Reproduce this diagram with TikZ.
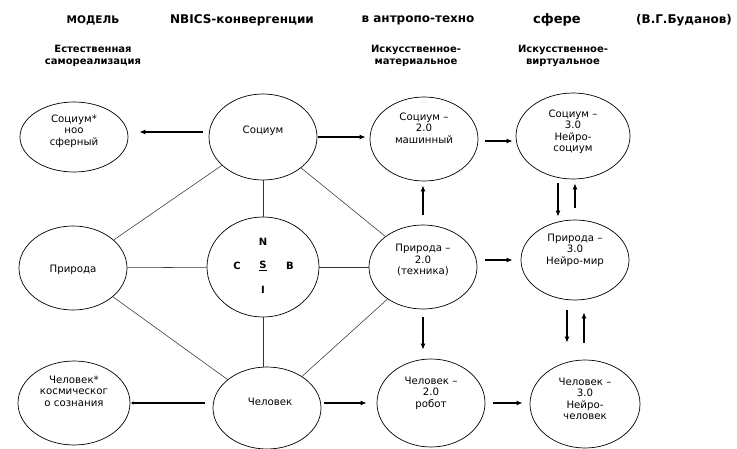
\documentclass[tikz,border=0pt]{standalone}
\usepackage{fontspec}
\setmainfont{DejaVu Sans}
\usetikzlibrary{shapes.geometric,arrows.meta,calc}
\tikzset{
  ell/.style={draw, ellipse, line width=0.7pt, inner sep=0pt},
  txt/.style={align=center, font=\fontsize{10.2}{11.5}\selectfont},
  hd/.style={align=center, font=\bfseries\fontsize{12}{14}\selectfont},
  hdd/.style={align=center, font=\bfseries\fontsize{10}{12}\selectfont},
  let/.style={font=\bfseries\fontsize{10}{12}\selectfont},
  con/.style={line width=0.55pt, draw=black!80},
  arr/.style={line width=1.3pt, -{Latex[length=6pt,width=5pt]}},
}
\begin{document}
\begin{tikzpicture}[x=1pt,y=-1pt]
\useasboundingbox (0,0) rectangle (737,449);
% headers
\node[hd, font=\bfseries\fontsize{10.5}{12}\selectfont] (h1) at (93,20) {МОДЕЛЬ};
\node[hd] (h2) at (242,20) {NBICS-конвергенции};
\node[hd] (h3) at (418,20) {в антропо-техно};
\node[hd, font=\bfseries\fontsize{13}{14}\selectfont] (h4) at (557,20) {сфере};
\node[hd] (h5) at (684,20) {(В.Г.Буданов)};
\node[hdd] (h6) at (93,56) {Естественная\\самореализация};
\node[hdd] (h7) at (416,56) {Искусственное-\\материальное};
\node[hdd] (h8) at (563,56) {Искусственное-\\виртуальное};
% ellipses
\node[ell, minimum width=108pt, minimum height=70pt] (sn) at (74,137) {};
\node[ell, minimum width=108pt, minimum height=86pt] (soc) at (263,137) {};
\node[ell, minimum width=108pt, minimum height=84pt] (s2) at (424,139) {};
\node[ell, minimum width=114pt, minimum height=86pt] (s3) at (573,136) {};
\node[ell, minimum width=108pt, minimum height=84pt] (pr) at (73,268) {};
\node[ell, minimum width=112pt, minimum height=100pt] (nb) at (263,267) {};
\node[ell, minimum width=108pt, minimum height=84pt] (p2) at (423,267) {};
\node[ell, minimum width=108pt, minimum height=80pt] (p3) at (575,260) {};
\node[ell, minimum width=112pt, minimum height=84pt] (chs) at (74,403) {};
\node[ell, minimum width=108pt, minimum height=82pt] (ch) at (267,408) {};
\node[ell, minimum width=108pt, minimum height=88pt] (c2) at (431,403) {};
\node[ell, minimum width=110pt, minimum height=88pt] (c3) at (585,404) {};
% texts
\node[txt] (snt) at (74,131) {Социум*\\ноо\\сферный};
\node[txt] (soct) at (263,131) {Социум};
\node[txt] (s2t) at (424,128) {Социум –\\2.0\\машинный};
\node[txt] (s3t) at (573,132) {Социум –\\3.0\\Нейро-\\социум};
\node[txt] (prt) at (73,270) {Природа};
\node[txt] (p2t) at (423,260) {Природа –\\2.0\\(техника)};
\node[txt] (p3t) at (575,250) {Природа –\\3.0\\Нейро-мир};
\node[txt] (chst) at (74,391) {Человек*\\космическог\\о сознания};
\node[txt] (cht) at (270,402) {Человек};
\node[txt] (c2t) at (431,393) {Человек –\\2.0\\робот};
\node[txt] (c3t) at (585,399) {Человек –\\3.0\\Нейро-\\человек};
% NBICS letters
\node[let] (ln) at (263,242) {N};
\node[let] (lc) at (237,266) {C};
\node[let] (ls) at (263,266) {\underline{S}};
\node[let] (lb) at (290,266) {B};
\node[let] (li) at (263,290) {I};
% plain connectors
\draw[con] (soc) -- (pr);
\draw[con] (soc) -- (nb);
\draw[con] (soc) -- (p2);
\draw[con] (pr) -- (nb);
\draw[con] (nb) -- (p2);
\draw[con] (pr) -- (ch);
\draw[con] (nb.south) -- (nb.south |- ch.north);
\draw[con] (ch) -- (p2);
% arrows
\draw[arr, shorten <=6pt, shorten >=11pt] ([yshift=5pt]soc.west) -- ([yshift=5pt]sn.east);
\draw[arr, shorten <=1pt, shorten >=4pt] (soc.east) -- (soc.east -| s2.west);
\draw[arr, shorten <=7pt, shorten >=3pt] (s2.east |- s3.west) ++(0,5) coordinate (a1) (a1) -- (a1 -| s3.west);
\draw[arr, shorten <=10pt, shorten >=4pt] (p2.north) -- (p2.north |- s2.south);
\coordinate (s3d) at ([xshift=-15pt]s3.south);
\coordinate (s3u) at ([xshift=2pt]s3.south);
\draw[arr, shorten <=4pt, shorten >=3pt] (s3d) -- (s3d |- p3.north);
\draw[arr, shorten <=12pt, shorten >=4pt] (s3u |- p3.north) -- (s3u);
\draw[arr, shorten <=8pt, shorten >=8pt] (p2.east |- p3.west) -- (p3.west);
\draw[arr, shorten <=8pt, shorten >=9pt] (p2.south) -- (p2.south |- c2.north);
\coordinate (p3d) at ([xshift=-8pt]p3.south);
\coordinate (p3u) at ([xshift=9pt]p3.south);
\draw[arr, shorten <=10pt, shorten >=17pt] (p3d) -- (p3d |- c3.north);
\draw[arr, shorten <=17pt, shorten >=12pt] (p3u |- c3.north) -- (p3u);
\draw[line width=1.3pt, -{Latex[length=2pt,width=4pt]}, shorten <=8pt, shorten >=1pt] (ch.west |- chs.east) -- (chs.east);
\draw[arr, shorten <=3pt, shorten >=10pt] (ch.east |- c2.west) -- (c2.west);
\draw[arr, shorten <=8pt, shorten >=7pt] (c2.east) -- (c2.east -| c3.west);
\end{tikzpicture}
\end{document}
